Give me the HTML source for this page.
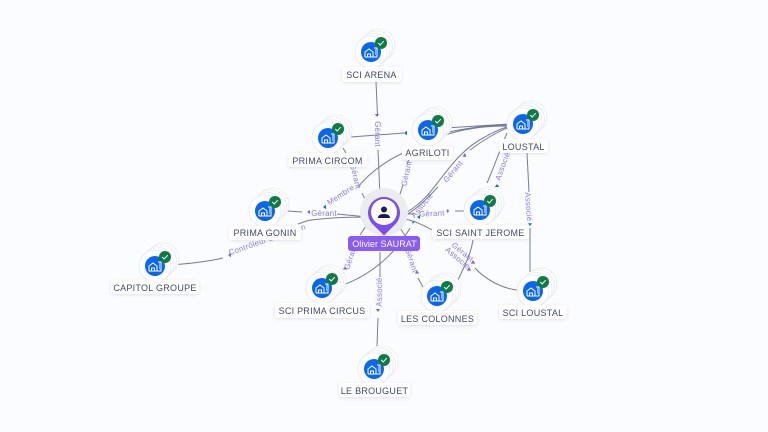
<!DOCTYPE html>
<html><head><meta charset="utf-8"><style>
html,body{margin:0;padding:0;background:#fbfcff;width:768px;height:432px;overflow:hidden}
svg{display:block}
.e{fill:none;stroke:#777b98;stroke-width:1}
.l{font:7.8px "Liberation Sans",sans-serif;fill:#8579f0;text-anchor:middle;letter-spacing:.3px}
.n{font:9px "Liberation Sans",sans-serif;fill:#43486e;text-anchor:middle;letter-spacing:.27px}
.b{fill:#fff;filter:url(#s)}
.a{fill:#7d5cf0}
.c{fill:#1a66e0}
</style></head><body>
<svg width="768" height="432" viewBox="0 0 768 432" xmlns="http://www.w3.org/2000/svg">
<defs>
<filter id="s" x="-30%" y="-40%" width="160%" height="190%"><feDropShadow dx="0" dy="1" stdDeviation="1.5" flood-color="#8088a8" flood-opacity=".22"/></filter>
<g id="node">
<circle cx="8" cy="-7" r="16" fill="#fff" stroke="#e9ebef" stroke-width=".8"/>
<circle cx="5.500" cy="-5" r="16" fill="#fff" stroke="#e9ebef" stroke-width=".8"/>
<circle cx="3" cy="-2.500" r="16" fill="#fff" stroke="#e9ebef" stroke-width=".8"/>
<circle cx="0" cy="0" r="16" fill="#fff" stroke="#e6e8ee" stroke-width=".8"/>
<circle r="10" fill="#0a66ee"/>
<path d="M-6 5V0L-2-3 2 0V5H-6M-3.500 5V2H-.5V5M3-4H6V5H2.500M4-2H5M4 0H5M4 2H5" fill="none" stroke="#fff" stroke-width="1"/>
<circle cx="10" cy="-9" r="6" fill="#0f7a45"/>
<path d="M7.300-9 9.200-7 12.700-10.800" fill="none" stroke="#fff" stroke-width="1"/>
</g>
</defs>
<rect width="768" height="432" fill="#fbfcff"/>

<!-- edges -->
<path class="e" d="M376 82 377.500 115M378 150 380 196"/>
<path class="e" d="M344 137.500 404 133"/>
<path class="e" d="M343 148 349 158M362 193 368 205"/>
<path class="e" d="M403 153C388 160 372 170 358 187"/>
<path class="e" d="M410 157 407 164M403 185 397 203"/>
<path class="e" d="M287 211 302 212M337 214 368 217"/>
<path class="e" d="M298 224 308 220.500C325 218 350 217 368 217"/>
<path class="e" d="M177 264.500C195 263 210 261 223 258"/>
<path class="e" d="M368 223 360 235"/>
<path class="e" d="M343 285C370 275 395 255 410 228"/>
<path class="e" d="M380 252 380 277M378 318 377 346"/>
<path class="e" d="M398 225 406 237M418 278 423 287"/>
<path class="e" d="M445 128 510 124M445 133C470 127 490 125 510 125M445 135C470 127 490 126 510 126"/>
<path class="e" d="M401 215C420 207 432 190 442 177 452 164 465 147 485 137 495 131 503 128 510 126"/>
<path class="e" d="M402 217C416 211 428 197 438 187M470 150C482 141 498 131 510 127"/>
<path class="e" d="M400 214 414 214M455 211 464 211"/>
<path class="e" d="M400 218C412 220 422 224 432 230"/>
<path class="e" d="M507 133C500 150 492 172 487 183"/>
<path class="e" d="M527 153 529 192M530 228 530 272"/>
<path class="e" d="M475 268C484 278 500 288 517 290"/>
<path class="e" d="M473 240C471 252 468 258 465 265L458 280"/>

<!-- arrows -->
<path class="a" d="M377 117l-2.200-3h4.400zM377 112z"/>
<path class="a" d="M228 255l3-2.200v4.400zM307 212l3-2v4zM345 266.500l2.200 3h-4.400zM378 312l2.200-3h-4.400zM417 270.500l2.200 3h-4.400zM473 260l2.200 3.600h-4.400zM469 267l2.200 3.600h-4.400zM449.500 211l-2.700-2v4zM465 153l-2.500 3.500 3.900.5z"/>
<path class="c" d="M404 133l3-2.200v4.400zM323 207l3-2.200v4.400zM417 217l3-2v4zM412 222l3-1.500-2 3.500zM497 184l2.200 3h-4.400zM530 226l2-2.700h-4zM378.500 225z"/>

<!-- connector labels -->
<text class="l" transform="translate(375 134) rotate(90)">Gérant</text>
<text class="l" transform="translate(353 177) rotate(76)">Gérant</text>
<text class="l" transform="translate(409 174) rotate(-78)">Gérant</text>
<text class="l" transform="translate(342 197) rotate(-33)">Membre</text>
<text class="l" transform="translate(324 216)">Gérant</text>
<text class="l" transform="translate(268 242) rotate(-19)">Contrôleur de gestion</text>
<text class="l" transform="translate(353 258) rotate(-72)">Gérant</text>
<text class="l" transform="translate(382 292) rotate(-90)">Associé</text>
<text class="l" transform="translate(409 261) rotate(72)">Gérant</text>
<text class="l" transform="translate(432 216) rotate(-3)">Gérant</text>
<text class="l" transform="translate(424 207) rotate(-50)">Associé</text>
<text class="l" transform="translate(455 173) rotate(-50)">Gérant</text>
<text class="l" transform="translate(505 167) rotate(-70)">Associé</text>
<text class="l" transform="translate(526 207) rotate(86)">Associé</text>
<text class="l" transform="translate(461 254) rotate(40)">Gérant</text>
<text class="l" transform="translate(456 260) rotate(40)">Associé</text>

<!-- center -->
<circle cx="384" cy="212" r="24" fill="#ebecee"/>
<path d="M384 235.500 372 223.500A16 16 0 1 1 396 223.500Z" fill="#7a4df0"/>
<circle cx="384" cy="212" r="13" fill="#fff"/>
<circle cx="384" cy="209.500" r="3" fill="#17204a"/>
<path d="M378 218c0-3 2.500-4 6-4s6 1 6 4z" fill="#17204a"/>

<!-- nodes -->
<use href="#node" x="371" y="52"/>
<use href="#node" x="328" y="138"/>
<use href="#node" x="428" y="130"/>
<use href="#node" x="523" y="124"/>
<use href="#node" x="480" y="210"/>
<use href="#node" x="533" y="291"/>
<use href="#node" x="437" y="296"/>
<use href="#node" x="155" y="266"/>
<use href="#node" x="265" y="211"/>
<use href="#node" x="322" y="288"/>
<use href="#node" x="374" y="369"/>

<!-- node labels -->
<rect x="348" y="236" width="72" height="15" rx="3" fill="#8a5cf6"/>
<text x="384.500" y="247" font-family="Liberation Sans, sans-serif" font-size="9.100" fill="#fff" text-anchor="middle">Olivier SAURAT</text>
<rect class="b" x="342" y="67" width="59" height="15" rx="3"/><text class="n" x="371.500" y="78">SCI ARENA</text>
<rect class="b" x="288" y="153" width="79" height="14" rx="3"/><text class="n" x="327.500" y="164">PRIMA CIRCOM</text>
<rect class="b" x="402" y="146" width="51" height="14" rx="3"/><text class="n" x="427.500" y="156">AGRILOTI</text>
<rect class="b" x="499" y="139" width="49" height="14" rx="3"/><text class="n" x="523.500" y="150">LOUSTAL</text>
<rect class="b" x="432" y="225" width="97" height="14" rx="3"/><text class="n" x="480.500" y="236">SCI SAINT JEROME</text>
<rect class="b" x="499" y="305" width="68" height="14" rx="3"/><text class="n" x="533" y="316">SCI LOUSTAL</text>
<rect class="b" x="398" y="311" width="79" height="14" rx="3"/><text class="n" x="437.500" y="322">LES COLONNES</text>
<rect class="b" x="111" y="280" width="88" height="14" rx="3"/><text class="n" x="155" y="291">CAPITOL GROUPE</text>
<rect class="b" x="229" y="226" width="72" height="14" rx="3"/><text class="n" x="265" y="236">PRIMA GONIN</text>
<rect class="b" x="275" y="303" width="94" height="15" rx="3"/><text class="n" x="322" y="314">SCI PRIMA CIRCUS</text>
<rect class="b" x="339" y="383" width="71" height="14" rx="3"/><text class="n" x="374.500" y="394">LE BROUGUET</text>
</svg>
</body></html>
